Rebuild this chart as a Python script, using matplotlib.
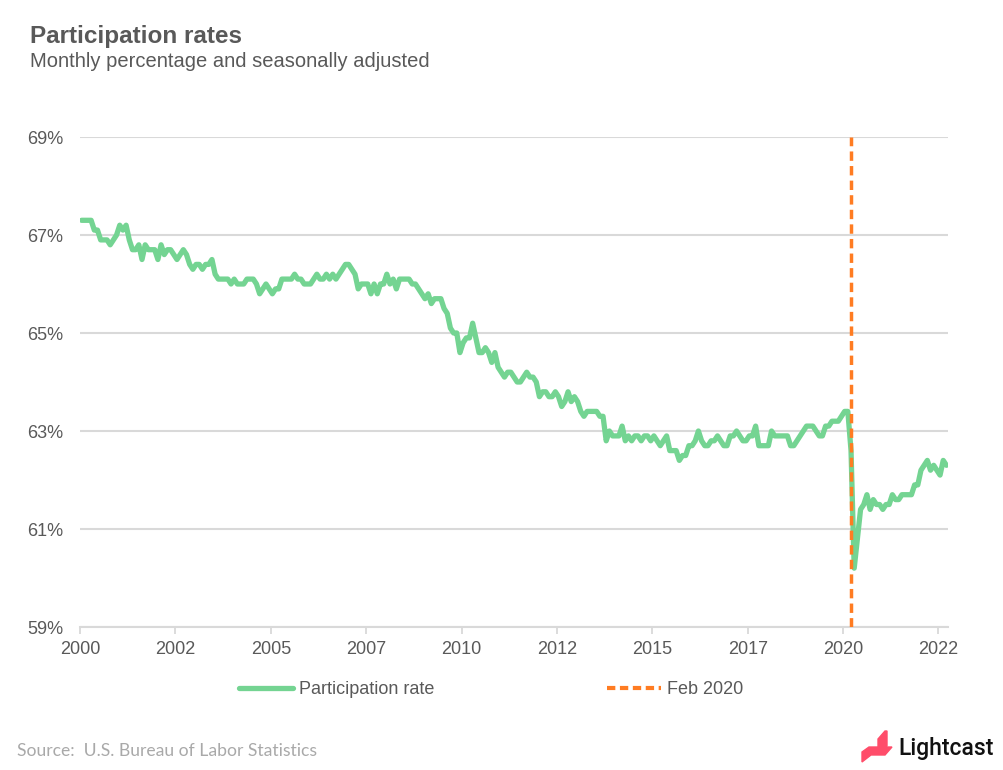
import numpy as np
import matplotlib
matplotlib.use("Agg")
import matplotlib.pyplot as plt
from matplotlib.lines import Line2D
from matplotlib.patches import Polygon

# Labor force participation rate, monthly, Jan 2000 - Sep 2022
rate_2000s = [
    67.3, 67.3, 67.3, 67.3, 67.1, 67.1, 66.9, 66.9, 66.9, 66.8, 66.9, 67.0,  # 2000
    67.2, 67.1, 67.2, 66.9, 66.7, 66.7, 66.8, 66.5, 66.8, 66.7, 66.7, 66.7,  # 2001
    66.5, 66.8, 66.6, 66.7, 66.7, 66.6, 66.5, 66.6, 66.7, 66.6, 66.4, 66.3,  # 2002
    66.4, 66.4, 66.3, 66.4, 66.4, 66.5, 66.2, 66.1, 66.1, 66.1, 66.1, 66.0,  # 2003
    66.1, 66.0, 66.0, 66.0, 66.1, 66.1, 66.1, 66.0, 65.8, 65.9, 66.0, 65.9,  # 2004
    65.8, 65.9, 65.9, 66.1, 66.1, 66.1, 66.1, 66.2, 66.1, 66.1, 66.0, 66.0,  # 2005
    66.0, 66.1, 66.2, 66.1, 66.1, 66.2, 66.1, 66.2, 66.1, 66.2, 66.3, 66.4,  # 2006
    66.4, 66.3, 66.2, 65.9, 66.0, 66.0, 66.0, 65.8, 66.0, 65.8, 66.0, 66.0,  # 2007
    66.2, 66.0, 66.1, 65.9, 66.1, 66.1, 66.1, 66.1, 66.0, 66.0, 65.9, 65.8,  # 2008
    65.7, 65.8, 65.6, 65.7, 65.7, 65.7, 65.5, 65.4, 65.1, 65.0, 65.0, 64.6,  # 2009
]
rate_2010s = [
    64.8, 64.9, 64.9, 65.2, 64.9, 64.6, 64.6, 64.7, 64.6, 64.4, 64.6, 64.3,  # 2010
    64.2, 64.1, 64.2, 64.2, 64.1, 64.0, 64.0, 64.1, 64.2, 64.1, 64.1, 64.0,  # 2011
    63.7, 63.8, 63.8, 63.7, 63.7, 63.8, 63.7, 63.5, 63.6, 63.8, 63.6, 63.7,  # 2012
    63.6, 63.4, 63.3, 63.4, 63.4, 63.4, 63.4, 63.3, 63.3, 62.8, 63.0, 62.9,  # 2013
    62.9, 62.9, 63.1, 62.8, 62.9, 62.8, 62.9, 62.9, 62.8, 62.9, 62.9, 62.8,  # 2014
    62.9, 62.8, 62.7, 62.8, 62.9, 62.6, 62.6, 62.6, 62.4, 62.5, 62.5, 62.7,  # 2015
    62.7, 62.8, 63.0, 62.8, 62.7, 62.7, 62.8, 62.8, 62.9, 62.8, 62.7, 62.7,  # 2016
    62.9, 62.9, 63.0, 62.9, 62.8, 62.8, 62.9, 62.9, 63.1, 62.7, 62.7, 62.7,  # 2017
    62.7, 63.0, 62.9, 62.9, 62.9, 62.9, 62.9, 62.7, 62.7, 62.8, 62.9, 63.0,  # 2018
    63.1, 63.1, 63.1, 63.0, 62.9, 62.9, 63.1, 63.1, 63.2, 63.2, 63.2, 63.3,  # 2019
]
rate_2020s = [
    63.4, 63.4, 62.6, 60.2, 60.8, 61.4, 61.5, 61.7, 61.4, 61.6, 61.5, 61.5,  # 2020
    61.4, 61.5, 61.5, 61.7, 61.6, 61.6, 61.7, 61.7, 61.7, 61.7, 61.9, 61.9,  # 2021
    62.2, 62.3, 62.4, 62.2, 62.3, 62.2, 62.1, 62.4, 62.3,                    # 2022
]
rate = rate_2000s + rate_2010s + rate_2020s
months = [f"{2000 + i // 12}-{i % 12 + 1:02d}" for i in range(len(rate))]

y_ticks = [59, 61, 63, 65, 67, 69]
tick_step = 30  # one x tick every 30 months, labelled with the year

title = "Participation rates"
subtitle = "Monthly percentage and seasonally adjusted"
source = "Source:  U.S. Bureau of Labor Statistics"

GREEN = "#74D492"
ORANGE = "#FF7C22"
GRID = "#D9D9D9"
TEXT = "#595959"

plt.rcParams["font.family"] = ["Liberation Sans", "DejaVu Sans"]

W, H = 1004, 770
fig = plt.figure(figsize=(W / 100, H / 100), dpi=100)
ax = fig.add_axes([80 / W, 1 - 627 / H, 868 / W, 490 / H])

n = len(rate)
x = np.arange(n) + 0.5  # category axis, points sit mid-category
ax.plot(x, rate, color=GREEN, lw=3.8, solid_capstyle="round",
        solid_joinstyle="round", zorder=3)

# Feb 2020 marker (Excel placed it one category to the right of the Feb point)
feb_pos = months.index("2020-02") + 1.5
ax.axvline(feb_pos, color=ORANGE, lw=2.5, dashes=(2.7, 1.5),
           dash_capstyle="butt", zorder=4)

ax.set_xlim(0, n)
ax.set_ylim(59, 69)
ax.set_yticks(y_ticks)
ax.set_yticklabels([f"{v}%" for v in y_ticks])
xt = list(range(0, n, tick_step))
ax.set_xticks(xt)
ax.set_xticklabels([months[i][:4] for i in xt])

ax.grid(axis="y", color=GRID, lw=1.5)
ax.set_axisbelow(True)
for s in ["top", "right", "left"]:
    ax.spines[s].set_visible(False)
ax.spines["bottom"].set_color(GRID)
ax.spines["bottom"].set_linewidth(1.5)
ax.tick_params(axis="y", length=0, pad=12, labelsize=13, labelcolor=TEXT)
ax.tick_params(axis="x", length=5, width=1.3, color=GRID, direction="out",
               pad=5, labelsize=13, labelcolor=TEXT)

handles = [
    Line2D([], [], color=GREEN, lw=3.8, solid_capstyle="round"),
    Line2D([], [], color=ORANGE, lw=3.0, dashes=(2.0, 1.1), dash_capstyle="butt"),
]
fig.legend(handles, ["Participation rate", "Feb 2020"], loc="center",
           bbox_to_anchor=(491 / W, 1 - 690 / H), ncol=2, frameon=False,
           fontsize=13, labelcolor=TEXT, handlelength=3.0, handletextpad=0.3,
           columnspacing=9.6)

fig.text(30 / W, 1 - 43 / H, title, fontsize=17.5, fontweight="bold",
         color=TEXT, va="baseline")
fig.text(30 / W, 1 - 67 / H, subtitle, fontsize=14.5, color=TEXT,
         va="baseline")
fig.text(17 / W, 1 - 756 / H, source, fontsize=12.6, color="#A9A9A9",
         va="baseline", family=["Lato", "DejaVu Sans"])

# Lightcast logo: pink mark plus wordmark
def px(pts):
    return [(a / W, 1 - b / H) for a, b in pts]

fig.patches.append(Polygon(px([(878, 754), (878, 739), (885, 731), (887, 731),
                               (887, 746)]), closed=True, color="#FF4D6A",
                           transform=fig.transFigure, figure=fig))
fig.patches.append(Polygon(px([(862, 762), (862, 752), (869, 747), (892, 747),
                               (885, 755), (871, 755)]), closed=True,
                           color="#FF4D6A", transform=fig.transFigure, figure=fig))
fig.text(898 / W, 1 - 755 / H, "Lightcast", fontsize=16.5, fontweight="medium",
         color="#111111", va="baseline", family=["Roboto", "DejaVu Sans"])

fig.savefig("out.png", dpi=100, facecolor="white")
